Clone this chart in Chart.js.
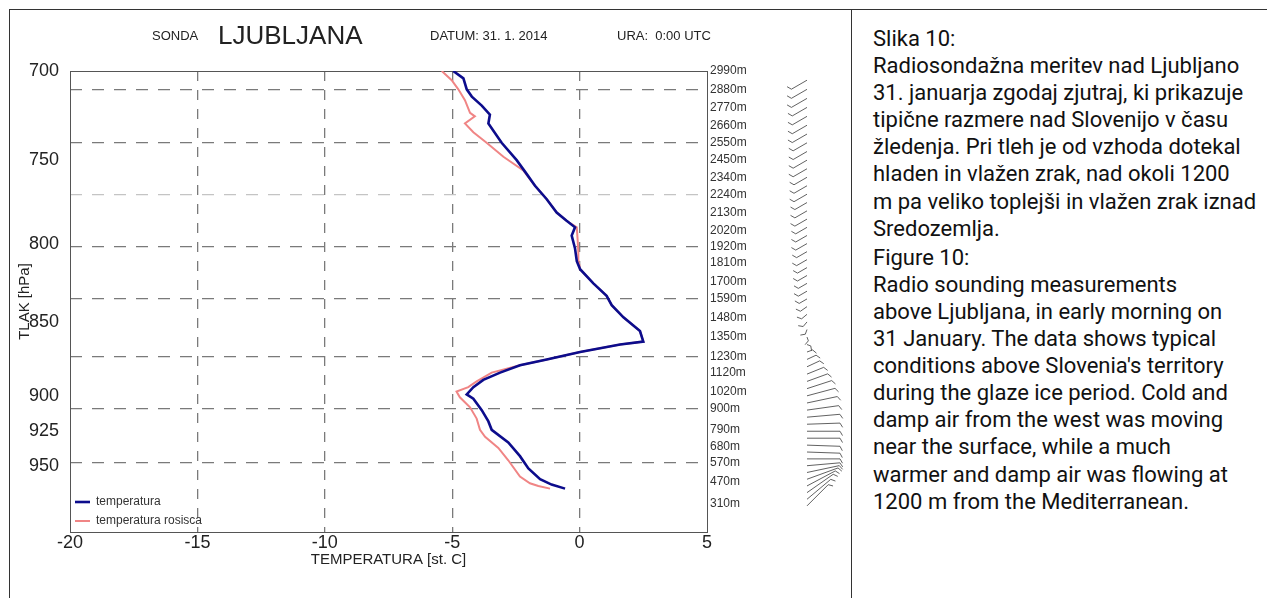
<!DOCTYPE html>
<html>
<head>
<meta charset="utf-8">
<script src="https://cdn.jsdelivr.net/npm/chart.js@4.4.1/dist/chart.umd.min.js"></script>
<style>
html, body { margin: 0; padding: 0; background: #fff; }
body { width: 1267px; height: 598px; position: relative; overflow: hidden; font-family: "Liberation Sans", Arial, sans-serif; color: #222; }
#frame { position: absolute; left: 9px; top: 9px; right: -5px; bottom: -5px; border-left: 1px solid #333; border-top: 1px solid #333; }
#divider { position: absolute; left: 851px; top: 9px; width: 1px; bottom: 0; background: #333; }
#wrap { position: absolute; left: 0; top: 0; width: 851px; height: 598px; }
.t { position: absolute; white-space: pre; line-height: 1; }
#caption { position: absolute; left: 873px; top: 25px; font-family: Roboto, sans-serif; font-size: 22px; line-height: 27.1px; color: #111; white-space: nowrap; }
#caption p { margin: 0 0 2px 0; }
</style>
</head>
<body>
<div id="frame"></div>
<div id="divider"></div>
<div id="wrap"><canvas id="c" width="851" height="598"></canvas></div>

<div class="t" style="left:152px;top:29px;font-size:13px;">SONDA</div>
<div class="t" style="left:218px;top:22px;font-size:26px;">LJUBLJANA</div>
<div class="t" style="left:430px;top:29px;font-size:13px;">DATUM: 31. 1. 2014</div>
<div class="t" style="left:617px;top:29px;font-size:13px;">URA:  0:00 UTC</div>

<div id="caption">
<p>Slika 10:<br>Radiosondažna meritev nad Ljubljano<br>31. januarja zgodaj zjutraj, ki prikazuje<br>tipične razmere nad Slovenijo v času<br>žledenja. Pri tleh je od vzhoda dotekal<br>hladen in vlažen zrak, nad okoli 1200<br>m pa veliko toplejši in vlažen zrak iznad<br>Sredozemlja.</p>
<p>Figure 10:<br>Radio sounding measurements<br>above Ljubljana, in early morning on<br>31 January. The data shows typical<br>conditions above Slovenia's territory<br>during the glaze ice period. Cold and<br>damp air from the west was moving<br>near the surface, while a much<br>warmer and damp air was flowing at<br>1200 m from the Mediterranean.</p>
</div>

<script>
// temperatura (hPa / st. C)
const tempP = [700, 704, 710, 714, 719, 724, 729, 740, 750, 758, 765, 773, 781, 786, 790, 795, 803, 811, 816, 825, 833, 839, 847, 856, 863, 865, 870, 875, 879, 884, 889, 894, 899, 902, 910, 918, 924, 933, 943, 952, 960, 964, 967];
const tempC = [-4.96, -4.56, -4.43, -4.23, -3.84, -3.52, -3.58, -3.06, -2.47, -2.08, -1.75, -1.29, -0.90, -0.51, -0.18, -0.31, -0.18, -0.11, 0.02, 0.54, 1.06, 1.26, 1.72, 2.37, 2.50, 1.59, 0.02, -1.29, -2.34, -3.12, -3.78, -4.17, -4.43, -4.17, -3.84, -3.58, -3.45, -2.80, -2.34, -2.01, -1.55, -1.10, -0.57];

// temperatura rosisca
const dewP = [700, 705, 710, 716, 723, 725, 729, 734, 740, 748, 756, 765, 773, 781, 786, 790, 797, 805, 810, 816, 825, 833, 839, 847, 856, 863, 865, 870, 875, 879, 884, 890, 894, 897, 901, 908, 916, 924, 929, 937, 946, 958, 963, 965, 967];
const dewC = [-5.41, -5.02, -4.76, -4.50, -4.30, -4.11, -4.50, -4.17, -3.65, -2.99, -2.21, -1.75, -1.29, -0.90, -0.51, -0.11, -0.08, -0.05, -0.05, 0.02, 0.54, 1.06, 1.26, 1.72, 2.37, 2.50, 1.59, 0.02, -1.29, -2.34, -3.45, -4.04, -4.37, -4.83, -4.70, -4.30, -4.04, -3.91, -3.71, -3.19, -2.80, -2.34, -1.95, -1.62, -1.16];

// tick labels
const pressureTicks = [700, 750, 800, 850, 900, 925, 950];
const heightTickP = [700, 710, 720, 730, 740, 750, 760, 770, 781, 792, 802, 812, 824, 835, 847, 860, 873, 884, 897, 909, 924, 936, 948, 962, 978];
const heightTickM = [2990, 2880, 2770, 2660, 2550, 2450, 2340, 2240, 2130, 2020, 1920, 1810, 1700, 1590, 1480, 1350, 1230, 1120, 1020, 900, 790, 680, 570, 470, 310];

// veter (hPa, smer st., hitrost kt)
const windP = [705, 710, 715, 720, 725, 730, 735, 740, 745, 750, 755, 760, 765, 770, 775, 780, 785, 790, 795, 800, 805, 810, 815, 820, 825, 830, 835, 840, 845, 850, 855, 860, 865, 870, 875, 880, 885, 890, 895, 900, 905, 910, 915, 920, 925, 930, 935, 940, 945, 950, 955, 960, 965, 970, 975, 980];
const windDir = [240, 240, 240, 240, 240, 240, 240, 240, 240, 240, 240, 240, 240, 240, 240, 240, 240, 240, 240, 240, 240, 240, 240, 240, 240, 240, 240, 235, 230, 220, 200, 160, 110, 70, 65, 65, 68, 70, 72, 75, 78, 82, 85, 88, 90, 90, 92, 92, 90, 85, 78, 70, 62, 55, 50, 45];
const windSpd = [18, 18, 18, 17, 17, 17, 17, 16, 16, 16, 16, 15, 15, 15, 14, 14, 14, 13, 13, 13, 12, 12, 11, 11, 10, 10, 9, 8, 7, 6, 5, 4, 4, 6, 10, 14, 18, 22, 26, 29, 31, 32, 33, 33, 33, 33, 33, 33, 33, 33, 33, 33, 32, 32, 31, 30];

Chart.defaults.font.family = '"Liberation Sans", Arial, sans-serif';
Chart.defaults.color = '#222';

const toPoints = (ps, vs) => ps.map((p, i) => ({ x: vs[i], y: p }));

const framePlugin = {
    id: 'frame',
    beforeDatasetsDraw(chart) {
        const { ctx, chartArea: a } = chart;
        ctx.save();
        ctx.strokeStyle = '#555';
        ctx.lineWidth = 1;
        ctx.strokeRect(a.left + 0.5, a.top + 0.5, a.right - a.left, a.bottom - a.top);
        ctx.restore();
    }
};

const legendPlugin = {
    id: 'innerLegend',
    afterDraw(chart) {
        const { ctx, chartArea: a } = chart;
        ctx.save();
        ctx.font = '12px "Liberation Sans", Arial, sans-serif';
        ctx.textBaseline = 'middle';
        chart.data.datasets.forEach((ds, i) => {
            const y = a.bottom - 30 + i * 19;
            ctx.strokeStyle = ds.borderColor;
            ctx.lineWidth = ds.borderWidth;
            ctx.beginPath();
            ctx.moveTo(a.left + 5, y);
            ctx.lineTo(a.left + 20, y);
            ctx.stroke();
            ctx.fillStyle = '#333';
            ctx.fillText(ds.label, a.left + 26, y);
        });
        ctx.restore();
    }
};

const windPlugin = {
    id: 'wind',
    afterDraw(chart) {
        const { ctx, chartArea: a } = chart;
        const ys = chart.scales.y;
        const x0 = a.right + 100;
        ctx.save();
        ctx.strokeStyle = 'rgba(70,70,70,0.85)';
        ctx.lineWidth = 1;
        windP.forEach((p, i) => {
            const py = ys.getPixelForValue(p);
            const ang = windDir[i] * Math.PI / 180;
            const ex = x0 + windSpd[i] * Math.sin(ang);
            const ey = py - windSpd[i] * Math.cos(ang);
            ctx.beginPath();
            ctx.moveTo(x0, py);
            ctx.lineTo(ex, ey);
            // feather
            const fa = ang + Math.PI / 3;
            ctx.moveTo(ex, ey);
            ctx.lineTo(ex + 5 * Math.sin(fa), ey - 5 * Math.cos(fa));
            ctx.stroke();
        });
        ctx.restore();
    }
};

new Chart(document.getElementById('c'), {
    type: 'scatter',
    data: {
        datasets: [
            {
                label: 'temperatura',
                data: toPoints(tempP, tempC),
                showLine: true,
                borderColor: '#0c0c8c',
                borderWidth: 2.6,
                pointRadius: 0,
                tension: 0
            },
            {
                label: 'temperatura rosisca',
                data: toPoints(dewP, dewC),
                showLine: true,
                borderColor: '#f08585',
                borderWidth: 2,
                pointRadius: 0,
                tension: 0
            }
        ]
    },
    options: {
        responsive: false,
        devicePixelRatio: 1,
        animation: false,
        layout: { padding: { left: 0, top: 71, right: 84, bottom: 18 } },
        plugins: { legend: { display: false }, tooltip: { enabled: false } },
        scales: {
            x: {
                type: 'linear',
                min: -20,
                max: 5,
                ticks: { stepSize: 5, font: { size: 18 }, color: '#222', padding: 0 },
                grid: {
                    drawTicks: false,
                    lineWidth: 1.3,
                    color: (c) => (c.tick && c.tick.value > -20 && c.tick.value < 5) ? '#7a7a7a' : 'rgba(0,0,0,0)'
                },
                border: { display: false, dash: [10, 9] },
                title: { display: true, text: 'TEMPERATURA [st. C]', font: { size: 15 }, color: '#222', padding: { top: 0, bottom: 11 } },
                afterFit: (s) => { s.height = 48; }
            },
            y: {
                type: 'logarithmic',
                position: 'left',
                min: 700,
                max: 1000,
                reverse: true,
                afterBuildTicks: (s) => { s.ticks = pressureTicks.map(v => ({ value: v })); },
                ticks: { autoSkip: false, font: { size: 18 }, color: '#222', padding: 3, callback: (v) => String(v) },
                grid: { display: false },
                border: { display: false },
                title: { display: true, text: 'TLAK [hPa]', font: { size: 15 }, color: '#222', padding: { top: 16, bottom: 0 } },
                afterFit: (s) => { s.width = 70; }
            },
            y2: {
                type: 'logarithmic',
                position: 'right',
                min: 700,
                max: 1000,
                reverse: true,
                afterBuildTicks: (s) => { s.ticks = heightTickP.map(v => ({ value: v })); },
                ticks: { autoSkip: false, font: { size: 12 }, color: '#333', padding: 3, callback: (v, i) => heightTickM[i] + 'm' },
                grid: {
                    drawTicks: false,
                    lineWidth: 1.3,
                    color: (c) => c.index % 3 !== 1 ? 'rgba(0,0,0,0)' : (c.index === 7 ? '#c4c4c4' : '#7a7a7a')
                },
                border: { display: false, dash: [12, 10] },
                afterFit: (s) => { s.width = 60; }
            }
        }
    },
    plugins: [framePlugin, legendPlugin, windPlugin]
});
</script>
</body>
</html>
